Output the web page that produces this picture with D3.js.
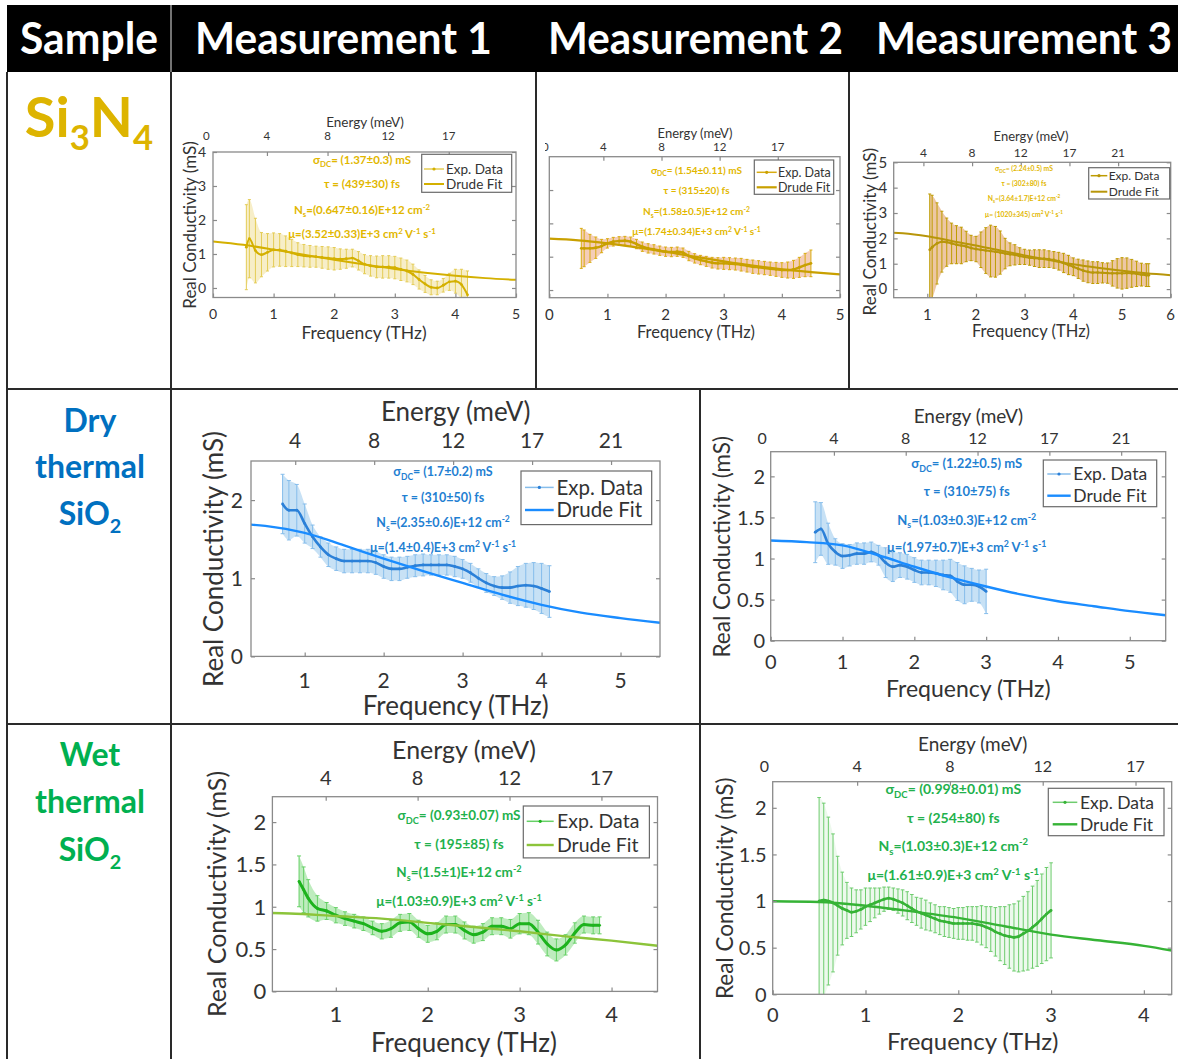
<!DOCTYPE html>
<html>
<head>
<meta charset="utf-8">
<title>Real conductivity - Drude fits</title>
<script src="https://d3js.org/d3.v7.min.js"></script>
<style>
  body { margin: 0; background: #fff; }
  svg { display: block; font-family: Lato, "Open Sans", sans-serif; }
</style>
</head>
<body>
<div id="chart-area"></div>
<script>
/*
*    Real conductivity vs frequency, Drude fits
*    rows = sample, columns = measurement
*/

// energy labels for the top axis, one per THz tick (0..5 THz)
const energyLabels = ["0", "4", "8", "12", "17", "21"]

const headerLabels = ["Sample", "Measurement 1", "Measurement 2", "Measurement 3"]

// ---- Si3N4, measurement 1 ----
const siA_f = [0.55, 0.6, 0.7, 0.8, 0.9, 1.0, 1.1, 1.2, 1.3, 1.4, 1.5, 1.6, 1.7, 1.8, 1.9, 2.0, 2.1, 2.2, 2.3, 2.4,
    2.5, 2.6, 2.7, 2.8, 2.9, 3.0, 3.1, 3.2, 3.3, 3.4, 3.5, 3.6, 3.7, 3.8, 3.9, 4.0, 4.1, 4.2]
const siA_sig = [1.2, 1.45, 1.1, 0.98, 1.05, 1.12, 1.12, 1.08, 1.03, 0.98, 0.95, 0.93, 0.92, 0.9, 0.88, 0.86, 0.85, 0.86, 0.88, 0.8,
    0.7, 0.65, 0.62, 0.62, 0.62, 0.6, 0.55, 0.5, 0.4, 0.25, 0.12, 0.02, 0.0, 0.08, 0.18, 0.2, 0.1, -0.2]
const siA_err = [1.25, 1.15, 0.95, 0.65, 0.55, 0.5, 0.48, 0.45, 0.4, 0.35, 0.33, 0.32, 0.31, 0.32, 0.33, 0.33, 0.3, 0.28, 0.26, 0.27,
    0.28, 0.3, 0.32, 0.33, 0.33, 0.33, 0.33, 0.32, 0.3, 0.28, 0.25, 0.22, 0.2, 0.2, 0.25, 0.35, 0.45, 0.7]
const siA_fitF = [0, 0.5, 1, 1.5, 2, 2.5, 3, 3.5, 4, 4.5, 5]
const siA_fit = [1.37, 1.27, 1.13, 0.98, 0.83, 0.69, 0.56, 0.45, 0.36, 0.29, 0.24]
const siA_notes = ["σ_{DC}= (1.37±0.3) mS", "τ = (439±30) fs", "N_{s}=(0.647±0.16)E+12 cm^{-2}", "μ=(3.52±0.33)E+3 cm^{2} V^{-1} s^{-1}"]

// ---- Si3N4, measurement 2 ----
const siB_f = [0.55, 0.6, 0.7, 0.8, 0.9, 1.0, 1.1, 1.2, 1.3, 1.4, 1.5, 1.6, 1.7, 1.8, 1.9, 2.0, 2.1, 2.2, 2.3, 2.4,
    2.5, 2.6, 2.7, 2.8, 2.9, 3.0, 3.1, 3.2, 3.3, 3.4, 3.5, 3.6, 3.7, 3.8, 3.9, 4.0, 4.1, 4.2, 4.3, 4.4, 4.5]
const siB_sig = [1.25, 1.25, 1.25, 1.27, 1.32, 1.4, 1.45, 1.47, 1.48, 1.45, 1.38, 1.3, 1.25, 1.22, 1.18, 1.15, 1.14, 1.15, 1.12, 1.02,
    0.95, 0.9, 0.86, 0.82, 0.8, 0.8, 0.79, 0.78, 0.76, 0.73, 0.7, 0.68, 0.66, 0.64, 0.62, 0.6, 0.6, 0.62, 0.68, 0.75, 0.8]
const siB_err = [0.6, 0.55, 0.42, 0.32, 0.2, 0.14, 0.13, 0.13, 0.13, 0.14, 0.14, 0.14, 0.14, 0.14, 0.14, 0.14, 0.14, 0.14, 0.14, 0.14,
    0.14, 0.14, 0.15, 0.16, 0.17, 0.18, 0.18, 0.18, 0.19, 0.19, 0.2, 0.2, 0.2, 0.2, 0.21, 0.22, 0.24, 0.27, 0.3, 0.35, 0.4]
const siB_fitF = [0, 0.5, 1, 1.5, 2, 2.5, 3, 3.5, 4, 4.5, 5]
const siB_fit = [1.54, 1.49, 1.4, 1.28, 1.15, 1.0, 0.86, 0.73, 0.62, 0.54, 0.47]
const siB_notes = ["σ_{DC}= (1.54±0.11) mS", "τ = (315±20) fs", "N_{s}=(1.58±0.5)E+12 cm^{-2}", "μ=(1.74±0.34)E+3 cm^{2} V^{-1} s^{-1}"]

// ---- Si3N4, measurement 3 ----
const siC_f = [1.05, 1.1, 1.2, 1.3, 1.4, 1.5, 1.6, 1.7, 1.8, 1.9, 2.0, 2.1, 2.2, 2.3, 2.4, 2.5, 2.6, 2.7, 2.8, 2.9,
    3.0, 3.1, 3.2, 3.3, 3.4, 3.5, 3.6, 3.7, 3.8, 3.9, 4.0, 4.1, 4.2, 4.3, 4.4, 4.5, 4.6, 4.7, 4.8, 4.9,
    5.0, 5.1, 5.2, 5.3, 5.4, 5.5, 5.55]
const siC_sig = [1.55, 1.65, 1.8, 1.87, 1.85, 1.8, 1.75, 1.72, 1.68, 1.62, 1.58, 1.55, 1.52, 1.5, 1.47, 1.44, 1.4, 1.37, 1.35, 1.3,
    1.27, 1.24, 1.22, 1.2, 1.2, 1.18, 1.15, 1.1, 1.03, 0.95, 0.88, 0.8, 0.73, 0.68, 0.65, 0.65, 0.64, 0.63, 0.62, 0.62,
    0.62, 0.63, 0.62, 0.6, 0.57, 0.55, 0.55]
const siC_err = [2.2, 2.05, 1.6, 1.2, 0.95, 0.8, 0.75, 0.72, 0.6, 0.5, 0.5, 0.7, 0.9, 1.02, 1.0, 0.85, 0.6, 0.45, 0.4, 0.33,
    0.3, 0.3, 0.33, 0.35, 0.35, 0.33, 0.33, 0.35, 0.38, 0.38, 0.35, 0.38, 0.42, 0.43, 0.43, 0.43, 0.4, 0.4, 0.5, 0.58,
    0.62, 0.6, 0.55, 0.5, 0.45, 0.45, 0.45]
const siC_fitF = [0, 0.5, 1, 1.5, 2, 2.5, 3, 3.5, 4, 4.5, 5, 5.5, 6]
const siC_fit = [2.24, 2.2, 2.08, 1.9, 1.72, 1.52, 1.33, 1.15, 0.98, 0.84, 0.72, 0.62, 0.55]
const siC_notes = ["σ_{DC}= (2.24±0.5) mS", "τ = (302±80) fs", "N_{s}=(3.64±1.7)E+12 cm^{-2}", "μ= (1020±345) cm^{2} V^{-1} s^{-1}"]

// ---- dry thermal SiO2, measurement 1 ----
const dryA_f = [0.72, 0.8, 0.9, 1.0, 1.1, 1.2, 1.3, 1.4, 1.5, 1.6, 1.7, 1.8, 1.9, 2.0, 2.1, 2.2, 2.3, 2.4, 2.5, 2.6,
    2.7, 2.8, 2.9, 3.0, 3.1, 3.2, 3.3, 3.4, 3.5, 3.6, 3.7, 3.8, 3.9, 4.0, 4.1]
const dryA_sig = [1.95, 1.87, 1.87, 1.7, 1.53, 1.4, 1.3, 1.25, 1.22, 1.22, 1.22, 1.22, 1.2, 1.15, 1.12, 1.12, 1.14, 1.16, 1.17, 1.17,
    1.17, 1.17, 1.15, 1.12, 1.07, 1.0, 0.94, 0.9, 0.88, 0.88, 0.9, 0.91, 0.9, 0.87, 0.83]
const dryA_err = [0.38, 0.38, 0.33, 0.25, 0.15, 0.13, 0.15, 0.15, 0.15, 0.15, 0.15, 0.15, 0.15, 0.15, 0.15, 0.15, 0.14, 0.14, 0.14, 0.13,
    0.13, 0.13, 0.13, 0.12, 0.12, 0.12, 0.12, 0.12, 0.15, 0.2, 0.25, 0.28, 0.3, 0.32, 0.33]
const dryA_fitF = [0, 0.5, 1, 1.5, 2, 2.5, 3, 3.5, 4, 4.5, 5, 5.5]
const dryA_fit = [1.7, 1.67, 1.58, 1.42, 1.25, 1.09, 0.94, 0.79, 0.66, 0.56, 0.49, 0.43]
const dryA_notes = ["σ_{DC}= (1.7±0.2) mS", "τ = (310±50) fs", "N_{s}=(2.35±0.6)E+12 cm^{-2}", "μ=(1.4±0.4)E+3 cm^{2} V^{-1} s^{-1}"]

// ---- dry thermal SiO2, measurement 2 ----
const dryB_f = [0.62, 0.7, 0.8, 0.9, 1.0, 1.1, 1.2, 1.3, 1.4, 1.5, 1.6, 1.7, 1.8, 1.9, 2.0, 2.1, 2.2, 2.3, 2.4, 2.5,
    2.6, 2.7, 2.8, 2.9, 3.0]
const dryB_sig = [1.32, 1.36, 1.18, 1.08, 1.03, 1.04, 1.06, 1.06, 1.08, 1.04, 0.95, 0.9, 0.92, 0.9, 0.86, 0.83, 0.83, 0.82, 0.8, 0.79,
    0.72, 0.68, 0.68, 0.66, 0.6]
const dryB_err = [0.37, 0.32, 0.25, 0.16, 0.15, 0.13, 0.13, 0.13, 0.12, 0.12, 0.18, 0.18, 0.15, 0.15, 0.15, 0.15, 0.15, 0.16, 0.18, 0.2,
    0.23, 0.23, 0.2, 0.2, 0.27]
const dryB_fitF = [0, 0.5, 1, 1.5, 2, 2.5, 3, 3.5, 4, 4.5, 5, 5.5]
const dryB_fit = [1.22, 1.2, 1.16, 1.04, 0.9, 0.77, 0.66, 0.56, 0.48, 0.42, 0.36, 0.31]
const dryB_notes = ["σ_{DC}= (1.22±0.5) mS", "τ = (310±75) fs", "N_{s}=(1.03±0.3)E+12 cm^{-2}", "μ=(1.97±0.7)E+3 cm^{2} V^{-1} s^{-1}"]

// ---- wet thermal SiO2, measurement 1 ----
const wetA_f = [0.6, 0.65, 0.7, 0.8, 0.9, 1.0, 1.1, 1.2, 1.3, 1.4, 1.5, 1.6, 1.7, 1.8, 1.9, 2.0, 2.1, 2.2, 2.3, 2.4,
    2.5, 2.6, 2.7, 2.8, 2.9, 3.0, 3.1, 3.2, 3.3, 3.4, 3.5, 3.6, 3.7, 3.8, 3.87]
const wetA_sig = [1.3, 1.2, 1.1, 0.98, 0.95, 0.9, 0.86, 0.83, 0.8, 0.75, 0.71, 0.74, 0.81, 0.82, 0.74, 0.68, 0.71, 0.79, 0.79, 0.72,
    0.67, 0.7, 0.77, 0.77, 0.74, 0.8, 0.8, 0.7, 0.56, 0.49, 0.55, 0.69, 0.79, 0.78, 0.78]
const wetA_err = [0.3, 0.27, 0.22, 0.15, 0.1, 0.09, 0.08, 0.08, 0.08, 0.08, 0.09, 0.1, 0.1, 0.1, 0.1, 0.1, 0.1, 0.1, 0.1, 0.1,
    0.1, 0.1, 0.1, 0.1, 0.11, 0.12, 0.13, 0.14, 0.14, 0.13, 0.12, 0.12, 0.1, 0.1, 0.1]
const wetA_fitF = [0, 0.5, 1, 1.5, 2, 2.5, 3, 3.5, 4, 4.5]
const wetA_fit = [0.93, 0.92, 0.89, 0.86, 0.81, 0.76, 0.71, 0.65, 0.6, 0.54]
const wetA_notes = ["σ_{DC}= (0.93±0.07) mS", "τ = (195±85) fs", "N_{s}=(1.5±1)E+12 cm^{-2}", "μ=(1.03±0.9)E+3 cm^{2} V^{-1} s^{-1}"]

// ---- wet thermal SiO2, measurement 2 (finer sampling) ----
const wetB_f = [0.5, 0.55, 0.6, 0.65, 0.7, 0.75, 0.8, 0.85, 0.9, 0.95, 1.0, 1.05, 1.1, 1.15, 1.2, 1.25, 1.3, 1.35, 1.4, 1.45,
    1.5, 1.55, 1.6, 1.65, 1.7, 1.75, 1.8, 1.85, 1.9, 1.95, 2.0, 2.05, 2.1, 2.15, 2.2, 2.25, 2.3, 2.35, 2.4, 2.45,
    2.5, 2.55, 2.6, 2.65, 2.7, 2.75, 2.8, 2.85, 2.9, 2.95, 3.0]
const wetB_sig = [1.0, 1.01, 1.0, 0.98, 0.95, 0.92, 0.9, 0.88, 0.89, 0.91, 0.94, 0.96, 0.98, 1.0, 1.02, 1.03, 1.02, 1.0, 0.98, 0.95,
    0.92, 0.89, 0.87, 0.85, 0.83, 0.81, 0.79, 0.78, 0.77, 0.76, 0.76, 0.76, 0.76, 0.76, 0.75, 0.74, 0.72, 0.7, 0.67, 0.65,
    0.63, 0.62, 0.61, 0.62, 0.65, 0.68, 0.72, 0.76, 0.81, 0.86, 0.9]
const wetB_err = [1.11, 1.04, 0.9, 0.74, 0.53, 0.39, 0.3, 0.26, 0.23, 0.21, 0.2, 0.18, 0.16, 0.14, 0.13, 0.12, 0.12, 0.13, 0.14, 0.15,
    0.15, 0.15, 0.16, 0.16, 0.15, 0.15, 0.15, 0.16, 0.16, 0.16, 0.17, 0.17, 0.18, 0.18, 0.19, 0.21, 0.22, 0.24, 0.26, 0.29,
    0.31, 0.34, 0.36, 0.38, 0.4, 0.42, 0.44, 0.46, 0.48, 0.5, 0.51]
const wetB_fitF = [0, 0.5, 1, 1.5, 2, 2.5, 3, 3.5, 4, 4.3]
const wetB_fit = [0.998, 0.99, 0.95, 0.89, 0.82, 0.73, 0.64, 0.58, 0.52, 0.47]
const wetB_notes = ["σ_{DC}= (0.998±0.01) mS", "τ = (254±80) fs", "N_{s}=(1.03±0.3)E+12 cm^{-2}", "μ=(1.61±0.9)E+3 cm^{2} V^{-1} s^{-1}"]

// ---- colours ----
const gold = "#DDB400", blue = "#0070C0", green = "#00B050"
const styleSiA = { data: "#D4B000", bar: "#E4CC55", band: "#F1E09A", bandOp: 0.55, fit: "#D4B000", note: "#E2B700", lw: 2, fitW: 2 }
const styleSiB = { data: "#C9A000", bar: "#D9AC10", band: "#F4CDB8", bandOp: 1, fit: "#C9A000", note: "#E2B700", lw: 2.4, fitW: 2.2 }
const styleSiC = { data: "#B8960A", bar: "#BE9C00", band: "#EDC7A4", bandOp: 1, fit: "#B8960A", note: "#E2B700", lw: 2, fitW: 2 }
const styleDry = { data: "#2B80D8", bar: "#86BDEB", band: "#B9D9F3", bandOp: 0.8, fit: "#1A8CFF", note: "#1F80D2", lw: 2.6, fitW: 2.4 }
const styleWetA = { data: "#1DB31D", bar: "#66D066", band: "#A8E5A8", bandOp: 0.75, fit: "#8CC43A", note: "#22B14C", lw: 3, fitW: 2.4 }
const styleWetB = { data: "#36B336", bar: "#6ECC6E", band: "#D3F1D3", bandOp: 0.4, fit: "#36B336", note: "#22B14C", lw: 2.6, fitW: 2.4 }

// panel layout: plot box, axis text placement and fonts.
// eShift: the energy axis sits a little left of the frequency axis
const panels = [
    { id: "siA", f: siA_f, v: siA_sig, e: siA_err, fitF: siA_fitF, fit: siA_fit, notes: siA_notes, style: styleSiA,
      xDom: [0, 5], yDom: [-0.28, 4], xTicks: [0, 1, 2, 3, 4, 5], yTicks: [0, 1, 2, 3, 4], topTicks: [0, 1, 2, 3, 4], eShift: 0.11,
      box: [213, 152, 516, 297.5], cell: [172, 73, 535, 388], showY: true,
      yLab: [190, 225, 17], yTickX: 206, tickFs: 14, xLabY: 314, freqLab: [364, 333, 17.5],
      eLab: [365, 122.5, 13.5], topY: 136, topFs: 11.5,
      legend: [421.7, 154.3, 511.7, 192.3], legRows: [169, 184], legLine: [424, 444], legX: 446, legFs: 13.5,
      noteX: 362, noteY: [160, 184, 210, 234], noteFs: 11.5, cap: 1.5 },
    { id: "siB", f: siB_f, v: siB_sig, e: siB_err, fitF: siB_fitF, fit: siB_fit, notes: siB_notes, style: styleSiB,
      xDom: [0, 5], yDom: [-0.23, 4], xTicks: [0, 1, 2, 3, 4, 5], yTicks: [0, 1, 2, 3], topTicks: [0, 1, 2, 3, 4], eShift: 0.07,
      box: [549.3, 156.7, 840, 297.7], cell: [545, 73, 848, 388], showY: false,
      tickFs: 15, xLabY: 314.3, freqLab: [696, 332, 16.5],
      eLab: [695, 133, 13], topY: 146.7, topFs: 11.5,
      legend: [754.3, 160, 833.7, 194.3], legRows: [172.3, 187.3], legLine: [756.7, 776.7], legX: 778, legFs: 12.5,
      noteX: 696.5, noteY: [170, 190, 211.7, 231.7], noteFs: 10, cap: 1.5 },
    { id: "siC", f: siC_f, v: siC_sig, e: siC_err, fitF: siC_fitF, fit: siC_fit, notes: siC_notes, style: styleSiC,
      xDom: [0.31, 6], yDom: [-0.34, 5], xTicks: [1, 2, 3, 4, 5, 6], yTicks: [0, 1, 2, 3, 4, 5], topTicks: [1, 2, 3, 4, 5], eShift: 0.08,
      box: [893.7, 162.3, 1170.7, 297.7], cell: [851, 73, 1178, 388], showY: true,
      yLab: [869.7, 231.7, 17], yTickX: 887.3, tickFs: 15, xLabY: 314.3, freqLab: [1031, 331, 16.5],
      eLab: [1031, 136.7, 13], topY: 152.3, topFs: 12,
      legend: [1088.7, 167.7, 1169.7, 199], legRows: [175.7, 191.7], legLine: [1090.7, 1107.3], legX: 1108.7, legFs: 12,
      noteX: 1024, noteY: [168.3, 183.3, 198.3, 214.3], noteFs: 6.8, cap: 1.5 },
    { id: "dryA", f: dryA_f, v: dryA_sig, e: dryA_err, fitF: dryA_fitF, fit: dryA_fit, notes: dryA_notes, style: styleDry,
      xDom: [0.32, 5.5], yDom: [0, 2.5], xTicks: [1, 2, 3, 4, 5], yTicks: [0, 1, 2], topTicks: [1, 2, 3, 4, 5], eShift: 0.12,
      box: [251, 461, 660, 656.4], cell: [172, 390, 699, 723], showY: true,
      yLab: [214, 559, 26], yTickX: 243, tickFs: 21, xLabY: 680, freqLab: [455.7, 706, 26],
      eLab: [455.7, 412, 26], topY: 440.7, topFs: 21,
      legend: [521, 471, 651.7, 524.6], legRows: [487.4, 510], legLine: [525, 553.7], legX: 556.4, legFs: 20.5,
      noteX: 443, noteY: [471.8, 497.5, 522.5, 547.2], noteFs: 12.5, cap: 2 },
    { id: "dryB", f: dryB_f, v: dryB_sig, e: dryB_err, fitF: dryB_fitF, fit: dryB_fit, notes: dryB_notes, style: styleDry,
      xDom: [0, 5.5], yDom: [0, 2.3], xTicks: [0, 1, 2, 3, 4, 5], yTicks: [0, 0.5, 1, 1.5, 2], topTicks: [0, 1, 2, 3, 4, 5], eShift: 0.12,
      box: [770.7, 451.7, 1165.7, 640.7], cell: [701, 390, 1178, 723], showY: true,
      yLab: [721.7, 546.7, 22.5], yTickX: 765, tickFs: 20, xLabY: 661.7, freqLab: [968.3, 688.3, 23],
      eLab: [968.3, 416, 19], topY: 438.3, topFs: 16,
      legend: [1043.3, 460, 1156.7, 506.7], legRows: [474, 495.7], legLine: [1047.3, 1070.7], legX: 1073.3, legFs: 17.5,
      noteX: 966.7, noteY: [463.3, 491.7, 520, 547.3], noteFs: 13, cap: 2 },
    { id: "wetA", f: wetA_f, v: wetA_sig, e: wetA_err, fitF: wetA_fitF, fit: wetA_fit, notes: wetA_notes, style: styleWetA,
      xDom: [0.31, 4.5], yDom: [0, 2.3], xTicks: [1, 2, 3, 4], yTicks: [0, 0.5, 1, 1.5, 2], topTicks: [1, 2, 3, 4], eShift: 0.11,
      box: [272.4, 796.7, 657.5, 991.4], cell: [172, 726, 699, 1059], showY: true,
      yLab: [217.3, 894, 25], yTickX: 266.3, tickFs: 22, xLabY: 1014, freqLab: [464, 1042.8, 26],
      eLab: [464, 750.4, 25], topY: 777.4, topFs: 20,
      legend: [523.3, 806, 649.4, 857.9], legRows: [821.3, 845], legLine: [526.7, 553.7], legX: 557, legFs: 19.5,
      noteX: 459, noteY: [815.6, 844, 872, 900.8], noteFs: 13.5, cap: 2 },
    { id: "wetB", f: wetB_f, v: wetB_sig, e: wetB_err, fitF: wetB_fitF, fit: wetB_fit, notes: wetB_notes, style: styleWetB,
      xDom: [0, 4.3], yDom: [0, 2.28], xTicks: [0, 1, 2, 3, 4], yTicks: [0, 0.5, 1, 1.5, 2], topTicks: [0, 1, 2, 3, 4], eShift: 0.09,
      box: [772.7, 781.7, 1171.7, 994.3], cell: [701, 726, 1178, 1059], showY: true,
      yLab: [725, 888.3, 22.5], yTickX: 766.7, tickFs: 20, xLabY: 1015, freqLab: [972.7, 1041, 24],
      eLab: [972.7, 744.3, 19], topY: 766.7, topFs: 16,
      legend: [1048.3, 788.3, 1164, 835.7], legRows: [802.3, 824.3], legLine: [1052.7, 1077.3], legX: 1080, legFs: 17.5,
      noteX: 953.3, noteY: [789, 818.3, 845.7, 875], noteFs: 14, cap: 1.8 }
]

const W = 1178, H = 1059
const axisCol = "#8a8a8a", textCol = "#333333"

const svg = d3.select("#chart-area")
    .append("svg")
        .attr("width", W)
        .attr("height", H)

svg.append("rect").attr("width", W).attr("height", H).attr("fill", "#fff")

// ---- table: header band and rules ----
svg.append("rect")
    .attr("x", 7).attr("y", 5)
    .attr("width", W - 7).attr("height", 67)
    .attr("fill", "#000")

svg.append("line")
    .attr("x1", 171).attr("x2", 171).attr("y1", 5).attr("y2", 72)
    .attr("stroke", "#9a9a9a").attr("stroke-width", 1.5)

const headerPos = [[89, 138], [343.5, 297], [695.5, 295], [1024, 296]]
headerLabels.forEach(function(label, i) {
    svg.append("text")
        .attr("x", headerPos[i][0])
        .attr("y", 54)
        .attr("text-anchor", "middle")
        .attr("textLength", headerPos[i][1])
        .attr("lengthAdjust", "spacingAndGlyphs")
        .attr("font-size", 43)
        .attr("font-weight", 700)
        .attr("fill", "#fff")
        .text(label)
})

const rules = [
    [7, 72, 7, H], [171, 72, 171, H],
    [536, 72, 536, 389], [849, 72, 849, 389],
    [700, 389, 700, H],
    [7, 389, W, 389], [7, 724, W, 724]
]
svg.append("g")
    .selectAll("line")
    .data(rules)
    .join("line")
        .attr("x1", d => d[0]).attr("y1", d => d[1])
        .attr("x2", d => d[2]).attr("y2", d => d[3])
        .attr("stroke", "#2a2a2a")
        .attr("stroke-width", 2)

// ---- sample names (left column) ----
function chemLabel(x, y, size, color, parts) {
    // parts: [text, isSubscript]
    let t = svg.append("text")
        .attr("x", x).attr("y", y)
        .attr("text-anchor", "middle")
        .attr("font-weight", 700)
        .attr("font-size", size)
        .attr("fill", color)
    let down = 0
    parts.forEach(function(p) {
        let shift = p[1] ? size * 0.24 : 0
        t.append("tspan")
            .attr("font-size", p[1] ? size * 0.62 : size)
            .attr("dy", shift - down)
            .text(p[0])
        down = shift
    })
}

chemLabel(89, 137, 56, gold, [["Si", false], ["3", true], ["N", false], ["4", true]])

chemLabel(90, 432, 32, blue, [["Dry", false]])
chemLabel(90, 478, 32, blue, [["thermal", false]])
chemLabel(90, 525, 32, blue, [["SiO", false], ["2", true]])

chemLabel(90, 766, 32, green, [["Wet", false]])
chemLabel(90, 813, 32, green, [["thermal", false]])
chemLabel(90, 861, 32, green, [["SiO", false], ["2", true]])

// ---- text with _{sub} and ^{sup} markup ----
function richText(sel, str, size) {
    const parts = str.split(/(_\{[^}]*\}|\^\{[^}]*\})/).filter(s => s.length)
    let off = 0
    parts.forEach(function(p) {
        let txt = p, shift = 0, fs = size
        if (p[0] === "_") { txt = p.slice(2, -1); shift = size * 0.28; fs = size * 0.68 }
        else if (p[0] === "^") { txt = p.slice(2, -1); shift = -size * 0.38; fs = size * 0.68 }
        sel.append("tspan")
            .attr("dy", shift - off)
            .attr("font-size", fs)
            .text(txt)
        off = shift
    })
}

// ---- one conductivity panel ----
function drawPanel(p) {
    const bx0 = p.box[0], by0 = p.box[1], bx1 = p.box[2], by1 = p.box[3]
    const st = p.style
    const tk = 4

    const x = d3.scaleLinear().domain(p.xDom).range([bx0, bx1])
    const xTop = d3.scaleLinear().domain([p.xDom[0] + p.eShift, p.xDom[1] + p.eShift]).range([bx0, bx1])
    const y = d3.scaleLinear().domain(p.yDom).range([by1, by0])

    const defs = svg.append("defs")
    defs.append("clipPath").attr("id", "cell-" + p.id)
        .append("rect")
            .attr("x", p.cell[0]).attr("y", p.cell[1])
            .attr("width", p.cell[2] - p.cell[0]).attr("height", p.cell[3] - p.cell[1])
    defs.append("clipPath").attr("id", "box-" + p.id)
        .append("rect")
            .attr("x", bx0).attr("y", by0)
            .attr("width", bx1 - bx0).attr("height", by1 - by0)

    const g = svg.append("g").attr("clip-path", "url(#cell-" + p.id + ")")
    const plot = g.append("g").attr("clip-path", "url(#box-" + p.id + ")")

    const pts = p.f.map((f, i) => ({ f: f, v: p.v[i], e: p.e[i] }))
    const fitPts = p.fitF.map((f, i) => ({ f: f, v: p.fit[i] }))

    // shaded band behind the error bars
    plot.append("path")
        .datum(pts)
        .attr("fill", st.band)
        .attr("fill-opacity", st.bandOp)
        .attr("d", d3.area().curve(d3.curveMonotoneX)
            .x(d => x(d.f))
            .y0(d => y(d.v - d.e))
            .y1(d => y(d.v + d.e)))

    // error bars + caps
    plot.append("g")
        .selectAll("line")
        .data(pts)
        .join("line")
            .attr("x1", d => x(d.f)).attr("x2", d => x(d.f))
            .attr("y1", d => y(d.v - d.e)).attr("y2", d => y(d.v + d.e))
            .attr("stroke", st.bar)
            .attr("stroke-width", 1)

    const caps = pts.flatMap(d => [{ f: d.f, v: d.v - d.e }, { f: d.f, v: d.v + d.e }])
    plot.append("g")
        .selectAll("line")
        .data(caps)
        .join("line")
            .attr("x1", d => x(d.f) - p.cap).attr("x2", d => x(d.f) + p.cap)
            .attr("y1", d => y(d.v)).attr("y2", d => y(d.v))
            .attr("stroke", st.bar)
            .attr("stroke-width", 1)

    // measured curve
    plot.append("path")
        .datum(pts)
        .attr("fill", "none")
        .attr("stroke", st.data)
        .attr("stroke-width", st.lw)
        .attr("d", d3.line().curve(d3.curveMonotoneX).x(d => x(d.f)).y(d => y(d.v)))

    plot.append("g")
        .selectAll("circle")
        .data(pts)
        .join("circle")
            .attr("cx", d => x(d.f))
            .attr("cy", d => y(d.v))
            .attr("r", 1.4)
            .attr("fill", st.data)

    // Drude fit
    plot.append("path")
        .datum(fitPts)
        .attr("fill", "none")
        .attr("stroke", st.fit)
        .attr("stroke-width", st.fitW)
        .attr("d", d3.line().curve(d3.curveMonotoneX).x(d => x(d.f)).y(d => y(d.v)))

    // axes box and inward ticks
    g.append("rect")
        .attr("x", bx0).attr("y", by0)
        .attr("width", bx1 - bx0).attr("height", by1 - by0)
        .attr("fill", "none")
        .attr("stroke", axisCol)
        .attr("stroke-width", 1.3)

    function ticks(axis, tx, ty) {
        g.append("g")
            .attr("transform", "translate(" + tx + "," + ty + ")")
            .call(axis.tickSize(-tk).tickSizeOuter(0).tickFormat(""))
            .call(a => a.select(".domain").remove())
            .call(a => a.selectAll("line").attr("stroke", axisCol).attr("stroke-width", 1.2))
    }
    const topMarks = p.topTicks.filter(t => xTop(t) >= bx0 && xTop(t) <= bx1)
    ticks(d3.axisBottom(x).tickValues(p.xTicks), 0, by1)
    ticks(d3.axisTop(xTop).tickValues(topMarks), 0, by0)
    ticks(d3.axisLeft(y).tickValues(p.yTicks), bx0, 0)
    ticks(d3.axisRight(y).tickValues(p.yTicks), bx1, 0)

    // tick labels
    g.append("g")
        .selectAll("text")
        .data(p.xTicks)
        .join("text")
            .attr("x", d => x(d))
            .attr("y", p.xLabY)
            .attr("dy", "0.36em")
            .attr("text-anchor", "middle")
            .attr("font-size", p.tickFs)
            .attr("fill", textCol)
            .text(d => d)

    g.append("g")
        .selectAll("text")
        .data(p.topTicks)
        .join("text")
            .attr("x", d => xTop(d))
            .attr("y", p.topY)
            .attr("dy", "0.36em")
            .attr("text-anchor", "middle")
            .attr("font-size", p.topFs)
            .attr("fill", textCol)
            .text(d => energyLabels[d])

    if (p.showY) {
        g.append("g")
            .selectAll("text")
            .data(p.yTicks)
            .join("text")
                .attr("x", p.yTickX)
                .attr("y", d => y(d))
                .attr("dy", "0.36em")
                .attr("text-anchor", "end")
                .attr("font-size", p.tickFs)
                .attr("fill", textCol)
                .text(d => d)

        g.append("text")
            .attr("transform", "translate(" + p.yLab[0] + "," + p.yLab[1] + ") rotate(-90)")
            .attr("dy", "0.36em")
            .attr("text-anchor", "middle")
            .attr("font-size", p.yLab[2])
            .attr("fill", textCol)
            .text("Real Conductivity (mS)")
    }

    g.append("text")
        .attr("x", p.freqLab[0]).attr("y", p.freqLab[1])
        .attr("dy", "0.36em")
        .attr("text-anchor", "middle")
        .attr("font-size", p.freqLab[2])
        .attr("fill", textCol)
        .text("Frequency (THz)")

    g.append("text")
        .attr("x", p.eLab[0]).attr("y", p.eLab[1])
        .attr("dy", "0.36em")
        .attr("text-anchor", "middle")
        .attr("font-size", p.eLab[2])
        .attr("fill", textCol)
        .text("Energy (meV)")

    // fit parameters
    p.notes.forEach(function(str, i) {
        const t = g.append("text")
            .attr("x", p.noteX)
            .attr("y", p.noteY[i] + p.noteFs * 0.36)
            .attr("text-anchor", "middle")
            .attr("font-weight", 700)
            .attr("font-size", p.noteFs)
            .attr("fill", st.note)
        richText(t, str, p.noteFs)
    })

    // legend
    const L = p.legend
    const leg = g.append("g")
    leg.append("rect")
        .attr("x", L[0]).attr("y", L[1])
        .attr("width", L[2] - L[0]).attr("height", L[3] - L[1])
        .attr("fill", "#fff")
        .attr("stroke", "#6a6a6a")
        .attr("stroke-width", 1.2)

    leg.append("line")
        .attr("x1", p.legLine[0]).attr("x2", p.legLine[1])
        .attr("y1", p.legRows[0]).attr("y2", p.legRows[0])
        .attr("stroke", st.bar).attr("stroke-width", 1.5)
    leg.append("circle")
        .attr("cx", (p.legLine[0] + p.legLine[1]) / 2).attr("cy", p.legRows[0])
        .attr("r", 1.6).attr("fill", st.data)
    leg.append("line")
        .attr("x1", p.legLine[0]).attr("x2", p.legLine[1])
        .attr("y1", p.legRows[1]).attr("y2", p.legRows[1])
        .attr("stroke", st.fit).attr("stroke-width", st.fitW)

    leg.selectAll("text.lg")
        .data(["Exp. Data", "Drude Fit"])
        .join("text")
            .attr("class", "lg")
            .attr("x", p.legX)
            .attr("y", (d, i) => p.legRows[i])
            .attr("dy", "0.36em")
            .attr("font-size", p.legFs)
            .attr("fill", textCol)
            .text(d => d)
}

panels.forEach(drawPanel)
</script>
</body>
</html>
